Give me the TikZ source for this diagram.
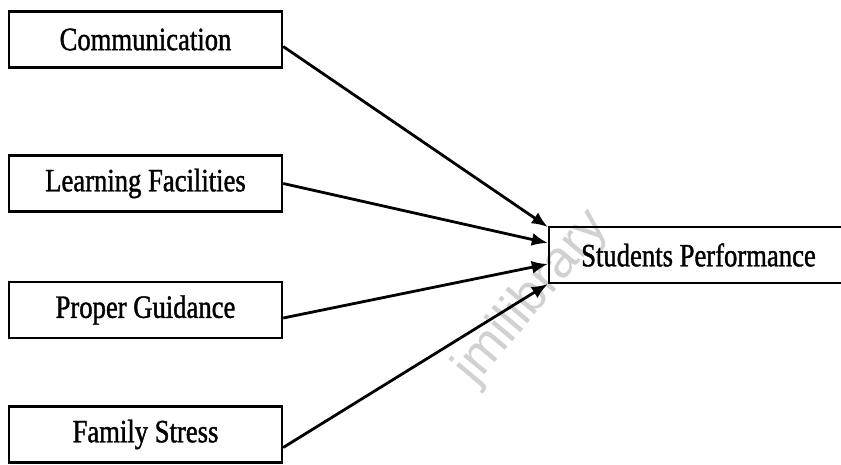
\documentclass[tikz,border=0pt]{standalone}
\usepackage{fontspec}
\setmainfont{Liberation Serif}[FakeStretch=0.82,FakeBold=1.2]
\newfontfamily\wmfont{Liberation Sans}
\usetikzlibrary{arrows.meta}
\tikzset{
  box/.style={draw=black, line width=2.4pt, minimum width=273pt, minimum height=56pt,
    inner sep=0pt, font=\fontsize{32.5}{36}\selectfont},
  conn/.style={line width=2.8pt, -{Latex[length=16pt,width=13pt]}}
}
\begin{document}
\begin{tikzpicture}[x=1pt,y=-1pt]
\useasboundingbox[fill=white] (0,0) rectangle (841,464);
\node[rotate=50, text=black!18, font=\wmfont\fontsize{52}{52}\selectfont] (wm) at (532,298) {jmilibrary};
\node[box] (comm) at (145.5,39.5) {Communication};
\node[box] (learn) at (145.5,183.5) {Learning Facilities};
\node[box] (guide) at (145.5,310) {Proper Guidance};
\node[box] (stress) at (145.5,434.5) {Family Stress};
\node[box, minimum width=299pt] (sp) at (698.5,255) {Students Performance};
\draw[conn] ([yshift=-7pt]comm.east) -- ([yshift=28pt]sp.west);
\draw[conn] (learn.east) -- ([yshift=12pt]sp.west);
\draw[conn] ([yshift=-8pt]guide.east) -- ([yshift=-9pt]sp.west);
\draw[conn] ([yshift=-13pt]stress.east) -- ([yshift=-29pt]sp.west);
\end{tikzpicture}
\end{document}
